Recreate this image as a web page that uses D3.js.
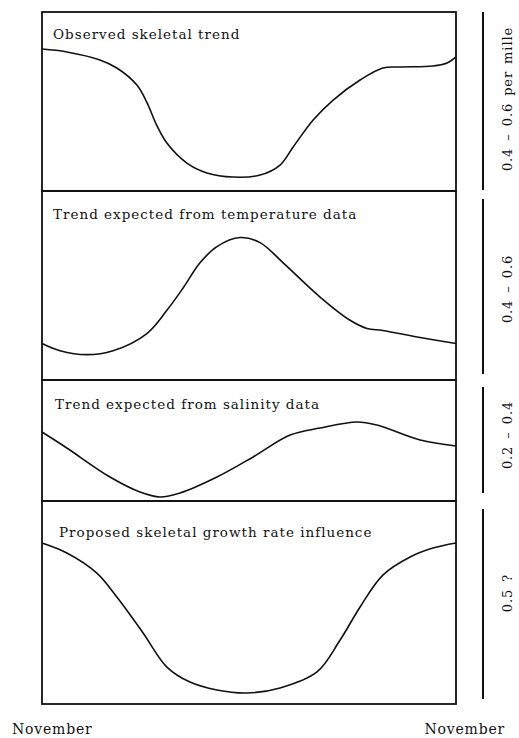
<!DOCTYPE html>
<html>
<head>
<meta charset="utf-8">
<script src="https://cdn.jsdelivr.net/npm/d3@7"></script>
<style>
  body { margin: 0; background: #fff; }
  svg { display: block; }
  text { font-family: "DejaVu Serif", "Liberation Serif", serif; fill: #111; }
</style>
</head>
<body>
<div id="container"></div>
<script>
// months since November (0 = November, 12 = next November)
// values are relative units, 0 = bottom of the panel, 100 = top

const observedMonths = [0, 0.72, 1.68, 2.17, 2.75, 3.04, 3.33, 3.62, 4.2, 4.78, 5.54, 6.32, 6.9, 7.28, 7.86, 8.44, 9.22, 9.88, 10.38, 11.33, 11.74, 12];
const observedValues = [79.3, 77.7, 73.2, 68.7, 59.2, 49.5, 36.5, 26.8, 15.6, 10.1, 7.8, 8.9, 14.5, 24.6, 39.7, 50.8, 62.0, 68.7, 69.3, 69.8, 71.5, 74.9];

const temperatureMonths = [0, 0.52, 1.3, 2.06, 3.04, 3.62, 4.09, 4.58, 5.07, 5.74, 6.32, 6.99, 8.06, 8.93, 9.42, 9.88, 10.96, 12];
const temperatureValues = [19.3, 15.5, 13.4, 15.5, 24.6, 36.9, 48.7, 62.0, 70.6, 75.4, 72.7, 62.0, 43.9, 31.6, 27.3, 26.2, 22.5, 19.3];

const salinityMonths = [0, 0.72, 1.97, 2.84, 3.42, 4.0, 5.07, 6.12, 7.19, 8.06, 9.13, 9.71, 10.96, 12];
const salinityValues = [57.0, 43.8, 19.8, 7.4, 3.3, 6.6, 19.8, 36.4, 54.5, 60.3, 65.3, 62.8, 50.4, 45.5];

const growthMonths = [0, 0.72, 1.59, 2.17, 2.93, 3.62, 4.29, 5.07, 5.94, 6.9, 7.97, 8.64, 9.22, 9.88, 10.67, 11.33, 12];
const growthValues = [79.3, 74.4, 64.5, 52.7, 35.0, 18.2, 10.8, 6.9, 5.4, 7.9, 15.8, 31.5, 47.8, 63.5, 72.4, 76.8, 79.3];

const panelTitles = [
  "Observed skeletal trend",
  "Trend expected from temperature data",
  "Trend expected from salinity data",
  "Proposed skeletal growth rate influence"
];
const rangeLabels = ["0.4 \u2013 0.6 per mille", "0.4 \u2013 0.6", "0.2 \u2013 0.4", "0.5 ?"];
const monthLabels = ["November", "November"];

const width = 519, height = 738;
const left = 42, right = 456;

// panel layout (pixels)
const panelTop = [12, 191, 380, 501];
const panelBottom = [191, 380, 501, 704];
const titleX = [53, 53, 55, 59];
const titleY = [39, 219, 409, 537];
const barTop = [12, 199, 387, 509];
const barBottom = [190, 374, 493, 699];
const labelY = [99, 289, 435, 593];

const series = [
  [observedMonths, observedValues],
  [temperatureMonths, temperatureValues],
  [salinityMonths, salinityValues],
  [growthMonths, growthValues]
];

const svg = d3.select("#container")
  .append("svg")
  .attr("width", width)
  .attr("height", height);

const x = d3.scaleLinear().domain([0, 12]).range([left, right]);

series.forEach((s, i) => {
  const y = d3.scaleLinear().domain([0, 100]).range([panelBottom[i], panelTop[i]]);
  const pts = s[0].map((m, j) => [m, s[1][j]]);

  const g = svg.append("g").attr("class", "panel");

  g.append("path")
    .datum(pts)
    .attr("fill", "none")
    .attr("stroke", "#111")
    .attr("stroke-width", 1.6)
    .attr("d", d3.line()
      .x(d => x(d[0]))
      .y(d => y(d[1]))
      .curve(d3.curveCatmullRom.alpha(0.5)));

  g.append("rect")
    .attr("x", left)
    .attr("y", panelTop[i])
    .attr("width", right - left)
    .attr("height", panelBottom[i] - panelTop[i])
    .attr("fill", "none")
    .attr("stroke", "#111")
    .attr("stroke-width", 1.8);

  g.append("text")
    .attr("x", titleX[i])
    .attr("y", titleY[i])
    .attr("font-size", 13.5)
    .attr("letter-spacing", 1)
    .text(panelTitles[i]);

  // scale bar on the right
  svg.append("line")
    .attr("x1", 483).attr("x2", 483)
    .attr("y1", barTop[i]).attr("y2", barBottom[i])
    .attr("stroke", "#111")
    .attr("stroke-width", 2);

  svg.append("text")
    .attr("transform", `translate(512,${labelY[i]}) rotate(-90)`)
    .attr("text-anchor", "middle")
    .attr("font-size", 13)
    .attr("letter-spacing", 0.9)
    .attr("word-spacing", 2)
    .text(rangeLabels[i]);
});

svg.append("text")
  .attr("x", 12)
  .attr("y", 734)
  .attr("font-size", 14)
  .attr("letter-spacing", 0.8)
  .text(monthLabels[0]);

svg.append("text")
  .attr("x", 505)
  .attr("y", 734)
  .attr("text-anchor", "end")
  .attr("font-size", 14)
  .attr("letter-spacing", 0.8)
  .text(monthLabels[1]);
</script>
</body>
</html>
